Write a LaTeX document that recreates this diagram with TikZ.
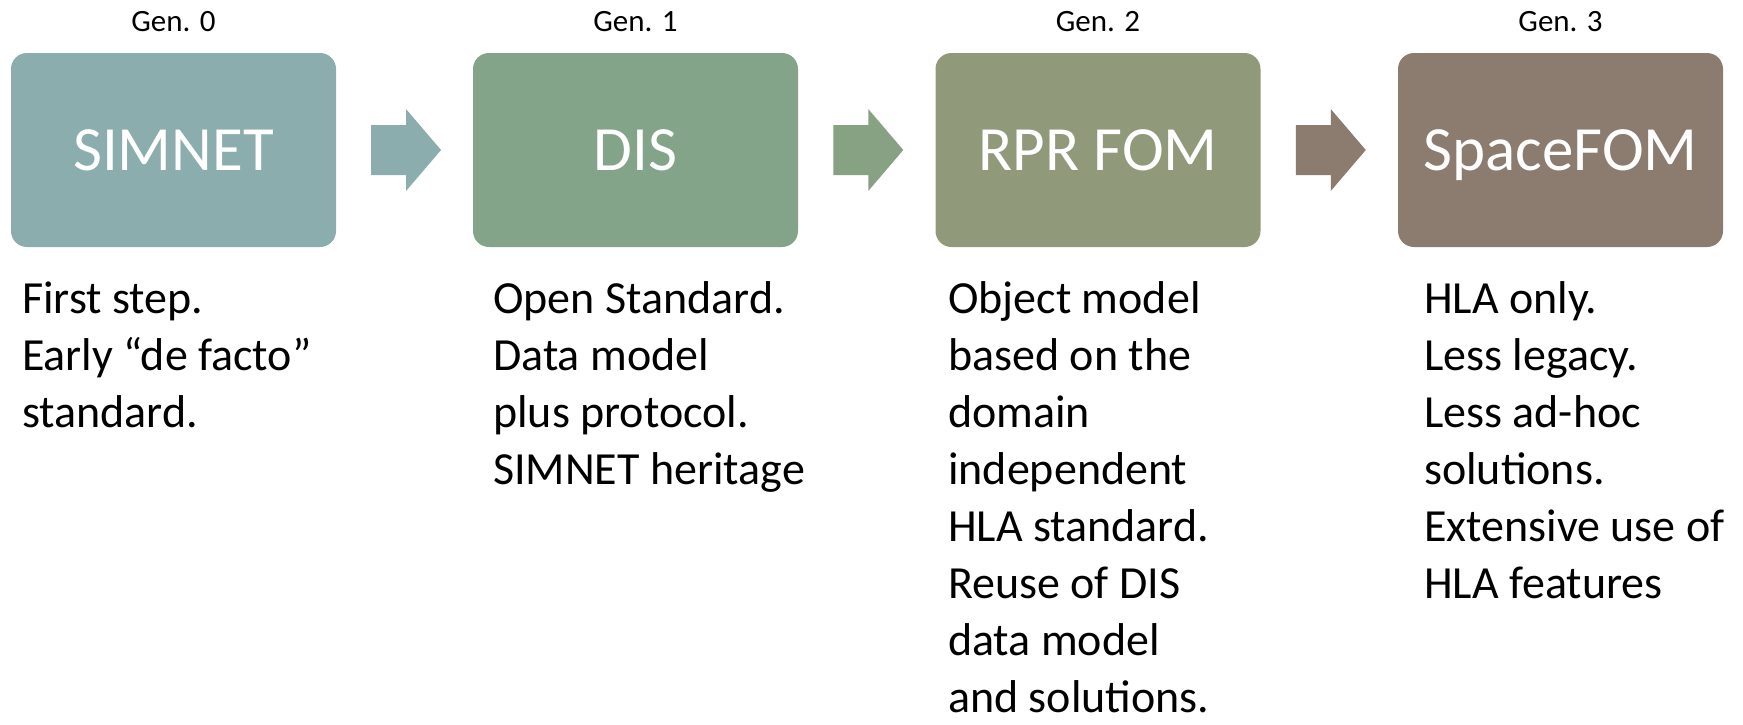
\documentclass[tikz,border=0pt]{standalone}
\usepackage{fontspec}
\setmainfont{Carlito}
\usetikzlibrary{calc}

% generation colours
\definecolor{genzero}{HTML}{8BADAD}
\definecolor{genone}{HTML}{84A489}
\definecolor{gentwo}{HTML}{909A7A}
\definecolor{genthree}{HTML}{8C7B6F}
\definecolor{arrowone}{HTML}{86A283}

\begin{document}
\begin{tikzpicture}[x=1pt,y=-1pt,
  genbox/.style={rectangle, rounded corners=16pt, minimum width=325pt,
    minimum height=194pt, inner sep=0pt, text=white,
    font=\fontsize{63}{75}\selectfont, text height=40.6pt, text depth=0pt},
  genlabel/.style={anchor=base, inner sep=0pt, text=black,
    font=\fontsize{31}{37}\selectfont},
  notes/.style={anchor=base west, inner sep=0pt, text=black,
    font=\fontsize{46}{57}\selectfont}]
\useasboundingbox (0,0) rectangle (1743,724);
\fill[white] (0,0) rectangle (1743,724);

% generation boxes
\node[genbox, fill=genzero]  (b0) at (173.5,150)  {SIMNET};
\node[genbox, fill=genone]   (b1) at (635.5,150)  {DIS};
\node[genbox, fill=gentwo]   (b2) at (1098,150)   {RPR FOM};
\node[genbox, fill=genthree] (b3) at (1560.5,150) {SpaceFOM};

% generation labels above the boxes
\node[genlabel] (g0) at ([yshift=21pt]b0.north) {Gen. 0};
\node[genlabel] (g1) at ([yshift=21pt]b1.north) {Gen. 1};
\node[genlabel] (g2) at ([yshift=21pt]b2.north) {Gen. 2};
\node[genlabel] (g3) at ([yshift=21pt]b3.north) {Gen. 3};

% block arrows between consecutive boxes
\foreach \from/\to/\col in {b0/b1/genzero, b1/b2/arrowone, b2/b3/genthree}{
  \coordinate (m\from) at ($(\from.east)!0.5!(\to.west)+(1.5,0)$);
  \fill[\col] ($(m\from)+(-35,-25)$) -- ++(35,0) -- ++(0,-16) -- ++(35,41)
    -- ++(-35,41) -- ++(0,-16) -- ++(-35,0) -- cycle;
}

% descriptions
\node[notes] (t0) at (22,313) {\parbox[t]{400pt}{\raggedright
  First step.\\Early “de facto”\\standard.}};
\node[notes] (t1) at (493,313) {\parbox[t]{400pt}{\raggedright
  Open Standard.\\Data model\\plus protocol.\\SIMNET heritage}};
\node[notes] (t2) at (948,313) {\parbox[t]{400pt}{\raggedright
  Object model\\based on the\\domain\\independent\\HLA standard.\\Reuse of DIS\\data model\\and solutions.}};
\node[notes] (t3) at (1424,313) {\parbox[t]{310pt}{\raggedright
  HLA only.\\Less legacy.\\Less ad-hoc\\solutions.\\Extensive use of\\HLA features}};
\end{tikzpicture}
\end{document}
